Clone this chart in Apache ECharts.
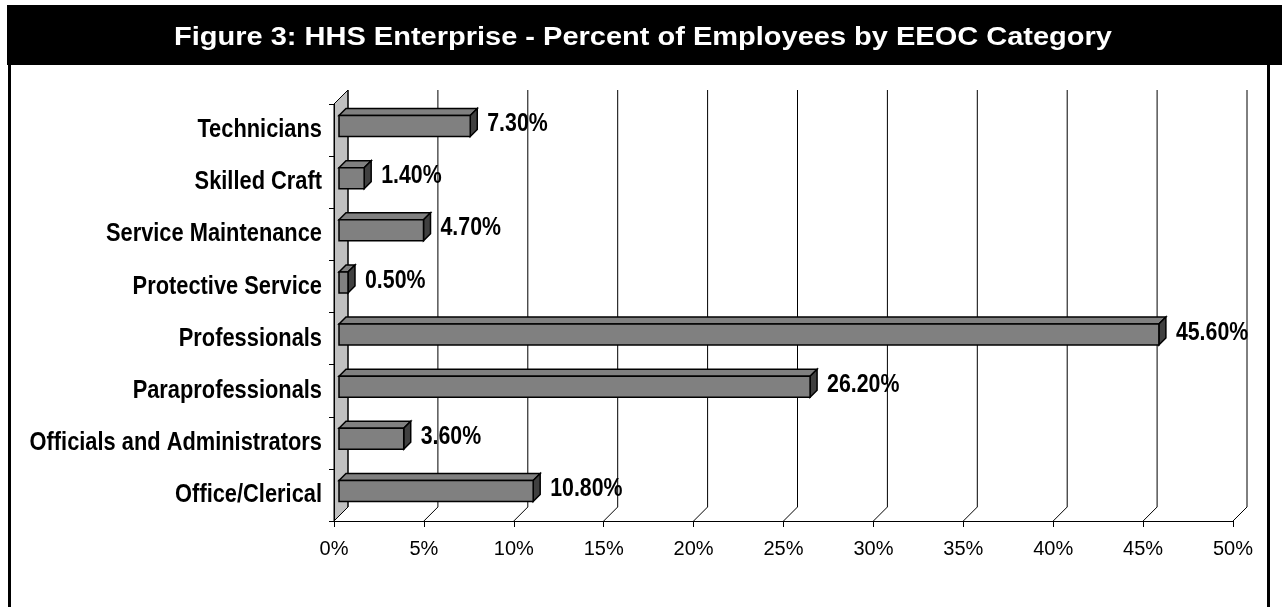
<!DOCTYPE html>
<html>
<head>
<meta charset="utf-8">
<script src="https://cdn.jsdelivr.net/npm/echarts@6/dist/echarts.min.js"></script>
<style>
  html, body { margin: 0; padding: 0; background: #fff; }
  #chart { width: 1285px; height: 607px; }
</style>
</head>
<body>
<div id="chart"></div>
<script>
// EEOC categories, listed bottom to top as they sit on the axis
const categories = [
  'Office/Clerical',
  'Officials and Administrators',
  'Paraprofessionals',
  'Professionals',
  'Protective Service',
  'Service Maintenance',
  'Skilled Craft',
  'Technicians'
];
// Percent of employees in each category
const percentValues = [10.8, 3.6, 26.2, 45.6, 0.5, 4.7, 1.4, 7.3];
// Percent scale ticks
const percentTicks = [0, 5, 10, 15, 20, 25, 30, 35, 40, 45, 50];

const titleText = 'Figure 3: HHS Enterprise - Percent of Employees by EEOC Category';

const SANS = '"Liberation Sans", Arial, sans-serif';
// condensed bold lettering, made by squeezing the regular bold face
const NARROW_SCALE = 0.82;
const CATEGORY_SCALE = 0.84;

// depth of the 3D box (back wall offset) and of each bar
const WALL_D = 14;
const BAR_FRONT_DX = 5, BAR_FRONT_DY = -4, BAR_D = 7, BAR_H = 21;

const chart = echarts.init(document.getElementById('chart'));

// back wall gridlines, floor edges and the grey side wall
function renderBackdrop(params, api) {
  const cs = params.coordSys;
  const v = api.value(0);
  const x = api.coord([v, 0])[0];
  const top = cs.y, bottom = cs.y + cs.height;
  const children = [];
  if (v === percentTicks[0]) {
    children.push({
      type: 'polygon',
      shape: { points: [[x, top], [x + WALL_D, top - WALL_D], [x + WALL_D, bottom - WALL_D], [x, bottom]] },
      style: { fill: '#c0c0c0', stroke: '#000', lineWidth: 1 }
    });
  }
  children.push({
    type: 'line',
    shape: { x1: x + WALL_D, y1: top - WALL_D, x2: x + WALL_D, y2: bottom - WALL_D },
    style: { stroke: '#000', lineWidth: 1 }
  });
  children.push({
    type: 'line',
    shape: { x1: x, y1: bottom, x2: x + WALL_D, y2: bottom - WALL_D },
    style: { stroke: '#000', lineWidth: 1 }
  });
  return { type: 'group', children };
}

// one 3D bar: front face, top face, side face, its value label and category name
function renderBar(params, api) {
  const idx = api.value(1);
  const v = api.value(0);
  const p0 = api.coord([0, idx]);
  const p1 = api.coord([v, idx]);
  const yc = p0[1] + BAR_FRONT_DY;
  const xa = p0[0] + BAR_FRONT_DX, xb = p1[0] + BAR_FRONT_DX;
  const ya = yc - BAR_H / 2, yb = yc + BAR_H / 2;
  const edge = { stroke: '#000', lineWidth: 1.5, lineJoin: 'miter' };
  return {
    type: 'group',
    children: [
      { type: 'polygon', shape: { points: [[xa, ya], [xa + BAR_D, ya - BAR_D], [xb + BAR_D, ya - BAR_D], [xb, ya]] },
        style: Object.assign({ fill: '#808080' }, edge) },
      { type: 'polygon', shape: { points: [[xb, ya], [xb + BAR_D, ya - BAR_D], [xb + BAR_D, yb - BAR_D], [xb, yb]] },
        style: Object.assign({ fill: '#404040' }, edge) },
      { type: 'rect', shape: { x: xa, y: ya, width: xb - xa, height: yb - ya },
        style: Object.assign({ fill: '#808080' }, edge) },
      { type: 'text', x: xb + BAR_D + 10, y: yc - 2, scaleX: NARROW_SCALE,
        style: { text: v.toFixed(2) + '%', fill: '#000', font: 'bold 26px ' + SANS,
                 textAlign: 'left', textVerticalAlign: 'middle' } },
      { type: 'text', x: p0[0] - 12, y: p0[1], scaleX: CATEGORY_SCALE,
        style: { text: categories[idx], fill: '#000', font: 'bold 26px ' + SANS,
                 textAlign: 'right', textVerticalAlign: 'middle' } }
    ]
  };
}

chart.setOption({
  animation: false,
  backgroundColor: '#fff',
  graphic: [
    { type: 'rect', shape: { x: 7, y: 5, width: 1275, height: 60 }, style: { fill: '#000' }, z: 10 },
    { type: 'rect', shape: { x: 8, y: 64, width: 3, height: 543 }, style: { fill: '#000' }, z: 10 },
    { type: 'rect', shape: { x: 1267, y: 64, width: 3, height: 543 }, style: { fill: '#000' }, z: 10 },
    { type: 'text', x: 643, y: 38, z: 11, scaleX: 1.16,
      style: { text: titleText, fill: '#fff', font: 'bold 25px ' + SANS,
               textAlign: 'center', textVerticalAlign: 'middle' } }
  ],
  grid: { left: 334, top: 104, width: 899, height: 417, containLabel: false, outerBoundsMode: 'none' },
  xAxis: {
    type: 'value', min: 0, max: 50, interval: 5, z: 4,
    axisLine: { show: true, lineStyle: { color: '#000', width: 1 } },
    axisTick: { show: true, length: 6, lineStyle: { color: '#000' } },
    splitLine: { show: false },
    axisLabel: { formatter: '{value}%', color: '#000', fontFamily: SANS, fontSize: 20, margin: 18 }
  },
  yAxis: {
    type: 'category', data: categories, z: 4,
    axisLine: { show: true, lineStyle: { color: '#000', width: 1 } },
    axisTick: { show: true, length: 5, lineStyle: { color: '#000' } },
    splitLine: { show: false },
    axisLabel: { show: false }
  },
  series: [
    { type: 'custom', z: 1, silent: true, renderItem: renderBackdrop,
      data: percentTicks.map(t => [t]) },
    { type: 'custom', z: 6, renderItem: renderBar,
      data: percentValues.map((v, i) => [v, i]) }
  ]
});
</script>
</body>
</html>
